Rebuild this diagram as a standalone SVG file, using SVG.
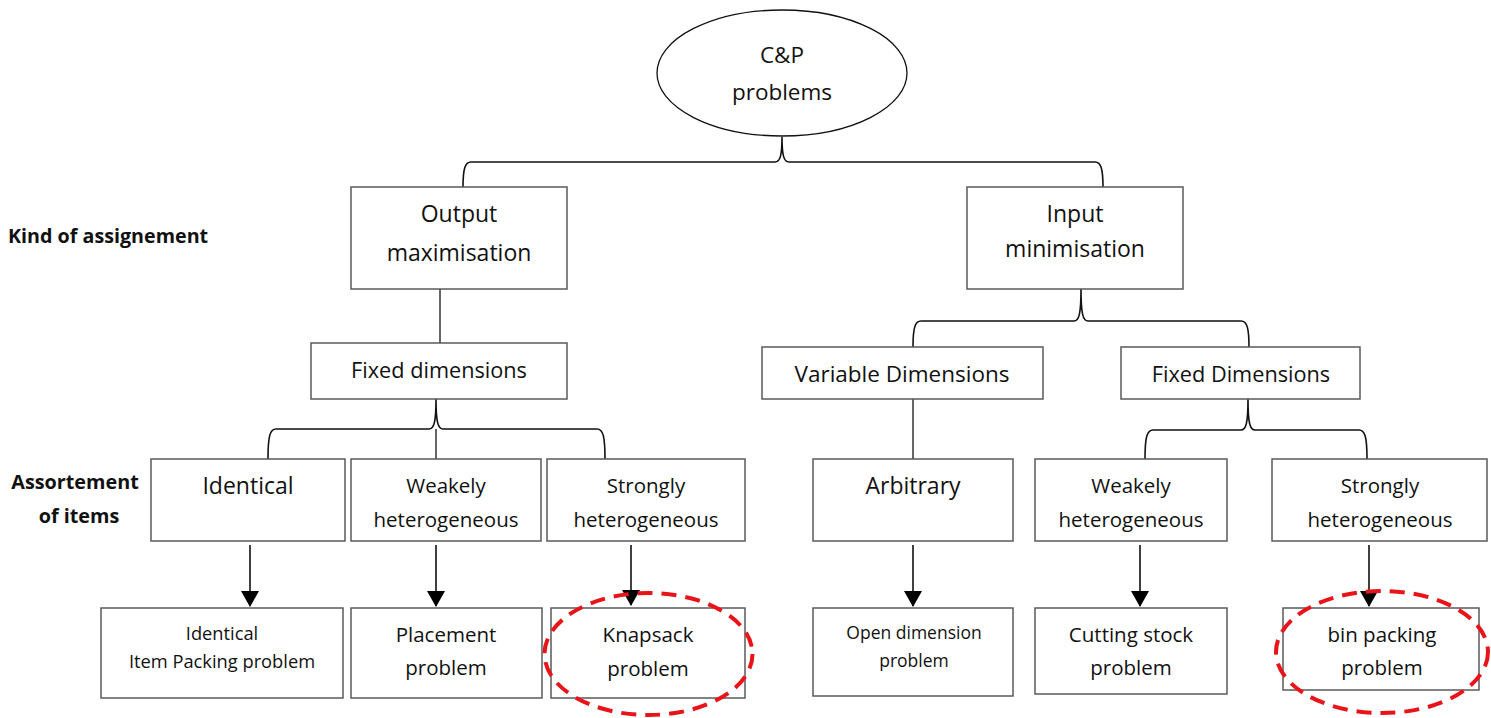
<svg xmlns="http://www.w3.org/2000/svg" width="1491" height="718" viewBox="0 0 1491 718">
  <defs>
    <style>
      .box { fill: #fff; stroke: #5a5a5a; stroke-width: 1.5; }
      .t { font-family: "Open Sans", "Liberation Sans", sans-serif; fill: #111; text-anchor: middle; }
      .lbl { font-family: "Open Sans", "Liberation Sans", sans-serif; font-weight: bold; fill: #111; }
      .brace { fill: none; stroke: #111; stroke-width: 1.6; }
      .line { fill: none; stroke: #333; stroke-width: 1.5; }
      .arrow { fill: none; stroke: #111; stroke-width: 1.6; marker-end: url(#ah); }
      .hl { fill: none; stroke: #e8141a; stroke-width: 4; stroke-dasharray: 15 9; }
    </style>
    <marker id="ah" viewBox="0 0 16 18" refX="15" refY="9" markerWidth="16" markerHeight="18" markerUnits="userSpaceOnUse" orient="auto">
      <path d="M0,0 L16,9 L0,18 Z" fill="#000"/>
    </marker>
  </defs>
  <rect width="1491" height="718" fill="#fff"/>

  <g id="connectors">
    <path class="brace" d="M463,187 C463,169 465,162 471,162 L775,162 C780,162 782,156 782,137 C782,156 784,162 789,162 L1095,162 C1101,162 1103,169 1103,187"/>
    <path class="line" d="M440,289 L440,343"/>
    <path class="brace" d="M268,459 C268,436 270,429 276,429 L429,429 C434,429 436,422 436,399 C436,422 438,429 443,429 L597,429 C603,429 605,436 605,459"/>
    <path class="line" d="M436,429 L436,459"/>
    <path class="brace" d="M913,347 C913,328 915,321 921,321 L1074,321 C1079,321 1081,314 1081,289 C1081,314 1083,321 1088,321 L1241,321 C1247,321 1249,328 1249,347"/>
    <path class="line" d="M913,399 L913,459"/>
    <path class="brace" d="M1145,459 C1145,437 1147,430 1153,430 L1241,430 C1246,430 1248,423 1248,399 C1248,423 1250,430 1255,430 L1359,430 C1365,430 1367,437 1367,459"/>
    <path class="arrow" d="M250,545 L250,606"/>
    <path class="arrow" d="M436,545 L436,606"/>
    <path class="arrow" d="M631,545 L631,605"/>
    <path class="arrow" d="M913,545 L913,606"/>
    <path class="arrow" d="M1140,545 L1140,606"/>
    <path class="arrow" d="M1369,545 L1369,606"/>
  </g>

  <g id="root">
    <ellipse cx="782" cy="73" rx="125" ry="63" fill="#fff" stroke="#111" stroke-width="1.3"/>
    <text class="t" x="782" y="63" font-size="22.5">C&amp;P</text>
    <text class="t" x="782" y="100" font-size="22.5">problems</text>
  </g>

  <g id="label-kind">
    <text class="lbl" x="8" y="243" font-size="19.7">Kind of assignement</text>
  </g>
  <g id="label-assort">
    <text class="lbl" x="75" y="489" font-size="19.8" text-anchor="middle">Assortement</text>
    <text class="lbl" x="79" y="523" font-size="19.8" text-anchor="middle">of items</text>
  </g>

  <g id="output-max">
    <rect class="box" x="351" y="187" width="216" height="102"/>
    <text class="t" x="459" y="222" font-size="23">Output</text>
    <text class="t" x="459" y="261" font-size="23">maximisation</text>
  </g>
  <g id="input-min">
    <rect class="box" x="967" y="187" width="216" height="102"/>
    <text class="t" x="1075" y="222" font-size="23">Input</text>
    <text class="t" x="1075" y="257" font-size="23">minimisation</text>
  </g>

  <g id="fixed-dim-left">
    <rect class="box" x="311" y="343" width="256" height="56"/>
    <text class="t" x="439" y="378" font-size="21.7">Fixed dimensions</text>
  </g>
  <g id="variable-dim">
    <rect class="box" x="762" y="347" width="281" height="52"/>
    <text class="t" x="902" y="382" font-size="22.5">Variable Dimensions</text>
  </g>
  <g id="fixed-dim-right">
    <rect class="box" x="1121" y="347" width="239" height="52"/>
    <text class="t" x="1241" y="382" font-size="21.7">Fixed Dimensions</text>
  </g>

  <g id="identical">
    <rect class="box" x="151" y="459" width="194" height="82"/>
    <text class="t" x="248" y="494" font-size="23">Identical</text>
  </g>
  <g id="weakly-left">
    <rect class="box" x="351" y="459" width="190" height="82"/>
    <text class="t" x="446" y="493" font-size="20.5">Weakely</text>
    <text class="t" x="446" y="527" font-size="20.5">heterogeneous</text>
  </g>
  <g id="strongly-left">
    <rect class="box" x="547" y="459" width="198" height="82"/>
    <text class="t" x="646" y="493" font-size="20.5">Strongly</text>
    <text class="t" x="646" y="527" font-size="20.5">heterogeneous</text>
  </g>
  <g id="arbitrary">
    <rect class="box" x="813" y="459" width="200" height="82"/>
    <text class="t" x="913" y="494" font-size="23">Arbitrary</text>
  </g>
  <g id="weakly-right">
    <rect class="box" x="1035" y="459" width="192" height="82"/>
    <text class="t" x="1131" y="493" font-size="20.5">Weakely</text>
    <text class="t" x="1131" y="527" font-size="20.5">heterogeneous</text>
  </g>
  <g id="strongly-right">
    <rect class="box" x="1272" y="459" width="215" height="82"/>
    <text class="t" x="1380" y="493" font-size="20.5">Strongly</text>
    <text class="t" x="1380" y="527" font-size="20.5">heterogeneous</text>
  </g>

  <g id="identical-item-packing">
    <rect class="box" x="101" y="608" width="242" height="90"/>
    <text class="t" x="222" y="640" font-size="18.3">Identical</text>
    <text class="t" x="222" y="668" font-size="18.3">Item Packing problem</text>
  </g>
  <g id="placement">
    <rect class="box" x="351" y="608" width="191" height="90"/>
    <text class="t" x="446" y="642" font-size="20.5">Placement</text>
    <text class="t" x="446" y="675" font-size="20.5">problem</text>
  </g>
  <g id="knapsack">
    <rect class="box" x="551" y="608" width="194" height="90"/>
    <text class="t" x="648" y="642" font-size="20.5">Knapsack</text>
    <text class="t" x="648" y="676" font-size="20.5">problem</text>
    <ellipse class="hl" cx="648.5" cy="654" rx="104" ry="61"/>
  </g>
  <g id="open-dimension">
    <rect class="box" x="813" y="608" width="200" height="88"/>
    <text class="t" x="914" y="639" font-size="17.5">Open dimension</text>
    <text class="t" x="914" y="667" font-size="17.5">problem</text>
  </g>
  <g id="cutting-stock">
    <rect class="box" x="1035" y="608" width="192" height="86"/>
    <text class="t" x="1131" y="642" font-size="20.5">Cutting stock</text>
    <text class="t" x="1131" y="675" font-size="20.5">problem</text>
  </g>
  <g id="bin-packing">
    <rect class="box" x="1283" y="608" width="196" height="82"/>
    <text class="t" x="1382" y="642" font-size="20.5">bin packing</text>
    <text class="t" x="1382" y="675" font-size="20.5">problem</text>
    <ellipse class="hl" cx="1382" cy="652" rx="106" ry="61"/>
  </g>
</svg>
